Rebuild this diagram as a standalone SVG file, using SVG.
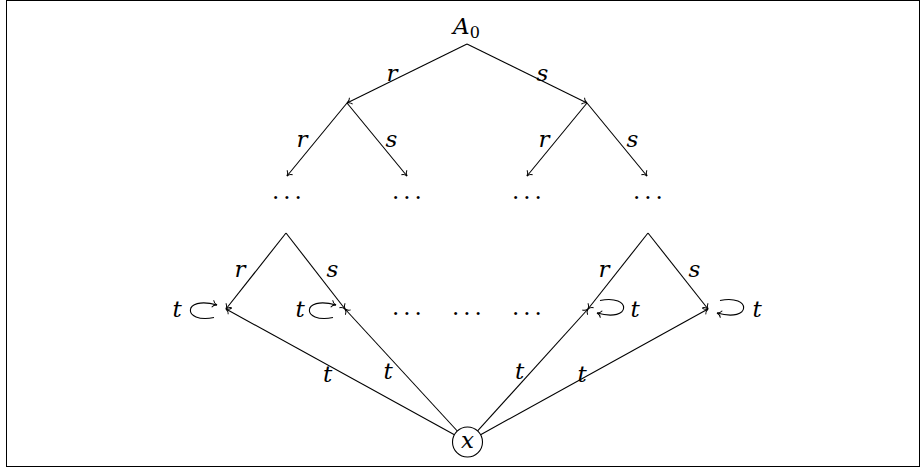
<svg xmlns="http://www.w3.org/2000/svg" width="920" height="468" viewBox="0 0 920 468">
<style>
.lbl { font-family: "DejaVu Serif", serif; font-style: italic; font-size: 23px; text-anchor: middle; fill: #000; }
.dots { font-family: "DejaVu Serif", serif; font-size: 23px; letter-spacing: 3.9px; text-anchor: middle; fill: #000; }
.e { fill: none; stroke: #000; stroke-width: 1.1; marker-end: url(#to); }
</style>
<defs>
<marker id="to" markerUnits="userSpaceOnUse" markerWidth="10" markerHeight="10" orient="auto" refX="0" refY="0" overflow="visible">
<path d="M-4.5,-3.6 C-3.6,-1.5 -1.6,-0.35 0,0 C-1.6,0.35 -3.6,1.5 -4.5,3.6" fill="none" stroke="#000" stroke-width="1"/>
</marker>
</defs>
<rect x="6.5" y="0.5" width="913" height="466" fill="#fff" stroke="#000" stroke-width="1"/>

<g id="connectors">
<path class="e" d="M467,44 L347,103"/>
<path class="e" d="M467,44 L587,103"/>
<path class="e" d="M347,103 L287,176"/>
<path class="e" d="M347,103 L407,176"/>
<path class="e" d="M587,103 L527,176"/>
<path class="e" d="M587,103 L647,176"/>
<path class="e" d="M286,233 L226,309"/>
<path class="e" d="M286,233 L345,309"/>
<path class="e" d="M648,233 L588,309"/>
<path class="e" d="M648,233 L708,309"/>
<path class="e" d="M454.4,434.8 L226,309"/>
<path class="e" d="M457.3,431 L345,309"/>
<path class="e" d="M477.6,430.9 L588,309"/>
<path class="e" d="M480.6,434.7 L708,309"/>
<path class="e" d="M214,317.5 C182,324 182,295 217,305"/>
<path class="e" d="M333,317.5 C301,324 301,295 336,305"/>
<path class="e" d="M600,300.5 C632,294 632,323 597,313"/>
<path class="e" d="M720,300.5 C752,294 752,323 717,313"/>
<text class="lbl" x="392" y="81">r</text>
<text class="lbl" x="542.5" y="81">s</text>
<text class="lbl" x="302" y="147">r</text>
<text class="lbl" x="391.5" y="147">s</text>
<text class="lbl" x="544" y="147">r</text>
<text class="lbl" x="632.5" y="147">s</text>
<text class="lbl" x="240" y="277">r</text>
<text class="lbl" x="332.5" y="277">s</text>
<text class="lbl" x="604" y="277">r</text>
<text class="lbl" x="694.5" y="277">s</text>
<text class="lbl" x="327.5" y="382">t</text>
<text class="lbl" x="388" y="379">t</text>
<text class="lbl" x="519.5" y="379">t</text>
<text class="lbl" x="582" y="382">t</text>
<text class="lbl" x="177" y="317">t</text>
<text class="lbl" x="300" y="317">t</text>
<text class="lbl" x="635" y="317">t</text>
<text class="lbl" x="757" y="317">t</text>
</g>

<g id="root">
<text class="lbl" x="453" y="34" style="text-anchor:start">A<tspan font-style="normal" font-size="16" dy="4">0</tspan></text>
</g>
<g id="d1"><text class="dots" x="288.9" y="205">···</text></g>
<g id="d2"><text class="dots" x="408.9" y="205">···</text></g>
<g id="d3"><text class="dots" x="528.9" y="205">···</text></g>
<g id="d4"><text class="dots" x="649.9" y="205">···</text></g>
<g id="m1"><text class="dots" x="408.9" y="320.5">···</text></g>
<g id="m2"><text class="dots" x="468.9" y="320.5">···</text></g>
<g id="m3"><text class="dots" x="528.9" y="320.5">···</text></g>
<g id="x">
<circle cx="467.5" cy="442" r="15" fill="none" stroke="#000" stroke-width="1.1"/>
<text class="lbl" x="467.5" y="447.5">x</text>
</g>
</svg>
